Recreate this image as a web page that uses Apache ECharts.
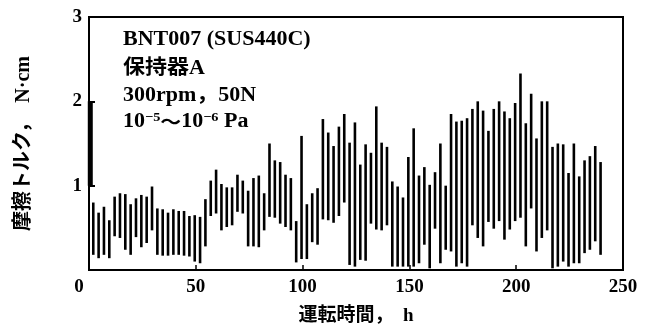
<!DOCTYPE html>
<html>
<head>
<meta charset="utf-8">
<script src="https://cdn.jsdelivr.net/npm/echarts@6/dist/echarts.min.js"></script>
<style>html,body{margin:0;padding:0;background:#fff;}#c{width:650px;height:331px;}</style>
</head>
<body>
<div id="c"></div>
<script>
// Operating time (h) of each measurement
const times = [2,4.5,7,9.5,12,14.5,17,19.5,22,24.5,
  27,29.5,32,34.5,37,39.5,42,44.5,47,49.5,
  52,54.5,57,59.5,62,64.5,67,69.5,72,74.5,
  77,79.5,82,84.5,87,89.5,92,94.5,97,99.5,
  102,104.5,107,109.5,112,114.5,117,119.5,122,124.5,
  127,129.5,132,134.5,137,139.5,142,144.5,147,149.5,
  152,154.5,157,159.5,162,164.5,167,169.5,172,174.5,
  177,179.5,182,184.5,187,189.5,192,194.5,197,199.5,
  202,204.5,207,209.5,212,214.5,217,219.5,222,224.5,
  227,229.5,232,234.5,237,239.5];
// Minimum friction torque (N·cm)
const minTorque = [0.18,0.14,0.18,0.14,0.40,0.38,0.24,0.18,0.39,0.27,
  0.32,0.47,0.18,0.17,0.17,0.18,0.18,0.17,0.16,0.10,
  0.08,0.28,0.64,0.67,0.47,0.51,0.53,0.69,0.67,0.28,
  0.28,0.27,0.47,0.63,0.62,0.55,0.51,0.47,0.09,0.13,
  0.13,0.33,0.30,0.60,0.59,0.56,0.64,0.80,0.06,0.04,
  0.12,0.11,0.55,0.48,0.47,0.53,0.04,0.04,0.04,0.04,
  0.04,0.08,0.30,0.02,0.49,0.08,0.24,0.22,0.04,0.08,
  0.04,0.53,0.38,0.28,0.57,0.49,0.58,0.36,0.48,0.58,
  0.62,0.28,0.73,0.22,0.38,0.47,0.02,0.04,0.10,0.04,
  0.08,0.08,0.20,0.24,0.34,0.18];
// Maximum friction torque (N·cm)
const maxTorque = [0.80,0.68,0.75,0.59,0.87,0.91,0.90,0.78,0.85,0.89,
  0.87,0.99,0.73,0.72,0.68,0.72,0.70,0.70,0.64,0.65,
  0.63,0.84,1.06,1.19,1.02,0.98,0.98,1.13,1.06,0.94,
  1.09,1.12,0.91,1.50,1.30,1.28,1.13,1.09,0.58,1.59,
  0.78,0.91,0.97,1.79,1.63,1.47,1.70,1.85,1.51,1.75,
  1.25,1.49,1.39,1.94,1.51,1.46,1.05,0.99,0.86,1.34,
  1.68,1.12,1.22,1.01,1.16,1.50,1.00,1.85,1.76,1.77,
  1.80,1.91,2.00,1.89,1.65,1.91,2.00,1.88,1.80,1.98,
  2.33,1.74,2.09,1.56,2.00,2.00,1.46,1.50,1.49,1.15,
  1.50,1.11,1.30,1.35,1.47,1.28];
// thick segment on the torque axis
const axisMarkX = [0.6, 0.6];
const axisMarkY = [1, 2];

const xTicks = [0, 50, 100, 150, 200, 250];
const yTicks = [0, 1, 2, 3];
const xTitle = '運転時間，  h';
const yTitle = '摩擦トルク，  N·cm';
const infoLines = ['BNT007 (SUS440C)', '保持器A', '300rpm，50N'];

const SERIF = "'Liberation Serif','Noto Sans CJK JP',serif";
const chart = echarts.init(document.getElementById('c'), null, {renderer: 'canvas'});

const rangeData = times.map((t, i) => [t, minTorque[i], maxTorque[i]]);

function infoText(txt, y, extra) {
  return Object.assign({
    type: 'text', x: 123, y: y, scaleX: 1.1,
    style: {text: txt, font: "bold 20px " + SERIF, fill: '#000', align: 'left', verticalAlign: 'middle'}
  }, extra || {});
}

chart.setOption({
  animation: false,
  backgroundColor: '#fff',
  grid: {left: 89, right: 27, top: 17, bottom: 59, show: true, borderColor: '#000', borderWidth: 2},
  xAxis: {
    type: 'value', min: xTicks[0], max: xTicks[xTicks.length - 1], interval: 50,
    axisLine: {lineStyle: {color: '#000', width: 2}},
    axisTick: {inside: true, length: 5, lineStyle: {color: '#000', width: 1.5}},
    splitLine: {show: false},
    axisLabel: {
      color: '#000', fontFamily: SERIF, fontWeight: 'bold', fontSize: 19, margin: 8,
      formatter: v => v === 0 ? '{z|0}' : String(v),
      rich: {z: {color: '#000', fontFamily: SERIF, fontWeight: 'bold', fontSize: 19, padding: [0, 20, 0, 0]}}
    },
    name: xTitle, nameLocation: 'middle', nameGap: 37,
    nameTextStyle: {color: '#000', fontFamily: SERIF, fontWeight: 'bold', fontSize: 19}
  },
  yAxis: {
    type: 'value', min: yTicks[0], max: yTicks[yTicks.length - 1], interval: 1,
    axisLine: {lineStyle: {color: '#000', width: 2}},
    axisTick: {inside: true, length: 6, lineStyle: {color: '#000', width: 2}},
    splitLine: {show: false},
    axisLabel: {color: '#000', fontFamily: SERIF, fontWeight: 'bold', fontSize: 19, margin: 7, showMinLabel: false},
    name: yTitle, nameLocation: 'middle', nameRotate: 90, nameGap: 55,
    nameTextStyle: {color: '#000', fontFamily: SERIF, fontWeight: 'bold', fontSize: 20}
  },
  graphic: [
    infoText(infoLines[0], 40),
    infoText(infoLines[1], 69),
    infoText(infoLines[2], 96),
    infoText('10{s|−5}{w|～}10{s|−6} Pa', 122, {style: {
      text: '10{s|−5}{w|～}10{s|−6} Pa',
      font: "bold 20px " + SERIF, fill: '#000', align: 'left', verticalAlign: 'middle',
      rich: {
        s: {fontSize: 13, fontFamily: SERIF, fontWeight: 'bold', verticalAlign: 'top', padding: [0, 0, 9, 0]},
        w: {fontSize: 19, fontFamily: "'Noto Sans CJK JP'", fontWeight: 'bold'}
      }
    }})
  ],
  series: [
    {
      type: 'custom',
      data: rangeData,
      encode: {x: 0, y: [1, 2]},
      renderItem: function (params, api) {
        const x = api.value(0);
        const p1 = api.coord([x, api.value(1)]);
        const p2 = api.coord([x, api.value(2)]);
        return {type: 'line', shape: {x1: p1[0], y1: p1[1], x2: p2[0], y2: p2[1]},
          style: {stroke: '#000', lineWidth: 2.6}};
      }
    },
    {
      type: 'line', symbol: 'none', z: 5,
      data: axisMarkX.map((x, i) => [x, axisMarkY[i]]),
      lineStyle: {color: '#000', width: 5}
    }
  ]
});
</script>
</body>
</html>
